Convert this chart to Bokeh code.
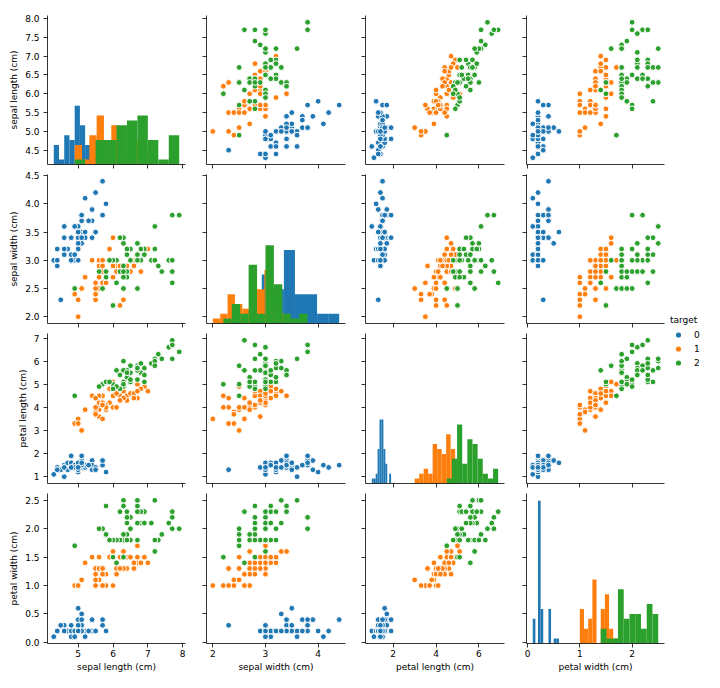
import numpy as np
from bokeh.plotting import figure
from bokeh.models import Range1d, FixedTicker, Legend, LegendItem, Spacer, CustomLabelingPolicy
from bokeh.layouts import gridplot, row, column
from bokeh.embed import file_html
from bokeh.resources import INLINE

# ---------------- data (iris, as plotted) ----------------
features = ["sepal length (cm)", "sepal width (cm)", "petal length (cm)", "petal width (cm)"]
target_names = ["0", "1", "2"]
legend_title = "target"

sepal_length = [5.1, 4.9, 4.7, 4.6, 5.0, 5.4, 4.6, 5.0, 4.4, 4.9, 5.4, 4.8, 4.8, 4.3, 5.8, 5.7, 5.4, 5.1, 5.7, 5.1,
                5.4, 5.1, 4.6, 5.1, 4.8, 5.0, 5.0, 5.2, 5.2, 4.7, 4.8, 5.4, 5.2, 5.5, 4.9, 5.0, 5.5, 4.9, 4.4, 5.1,
                5.0, 4.5, 4.4, 5.0, 5.1, 4.8, 5.1, 4.6, 5.3, 5.0,
                7.0, 6.4, 6.9, 5.5, 6.5, 5.7, 6.3, 4.9, 6.6, 5.2, 5.0, 5.9, 6.0, 6.1, 5.6, 6.7, 5.6, 5.8, 6.2, 5.6,
                5.9, 6.1, 6.3, 6.1, 6.4, 6.6, 6.8, 6.7, 6.0, 5.7, 5.5, 5.5, 5.8, 6.0, 5.4, 6.0, 6.7, 6.3, 5.6, 5.5,
                5.5, 6.1, 5.8, 5.0, 5.6, 5.7, 5.7, 6.2, 5.1, 5.7,
                6.3, 5.8, 7.1, 6.3, 6.5, 7.6, 4.9, 7.3, 6.7, 7.2, 6.5, 6.4, 6.8, 5.7, 5.8, 6.4, 6.5, 7.7, 7.7, 6.0,
                6.9, 5.6, 7.7, 6.3, 6.7, 7.2, 6.2, 6.1, 6.4, 7.2, 7.4, 7.9, 6.4, 6.3, 6.1, 7.7, 6.3, 6.4, 6.0, 6.9,
                6.7, 6.9, 5.8, 6.8, 6.7, 6.7, 6.3, 6.5, 6.2, 5.9]
sepal_width = [3.5, 3.0, 3.2, 3.1, 3.6, 3.9, 3.4, 3.4, 2.9, 3.1, 3.7, 3.4, 3.0, 3.0, 4.0, 4.4, 3.9, 3.5, 3.8, 3.8,
               3.4, 3.7, 3.6, 3.3, 3.4, 3.0, 3.4, 3.5, 3.4, 3.2, 3.1, 3.4, 4.1, 4.2, 3.1, 3.2, 3.5, 3.6, 3.0, 3.4,
               3.5, 2.3, 3.2, 3.5, 3.8, 3.0, 3.8, 3.2, 3.7, 3.3,
               3.2, 3.2, 3.1, 2.3, 2.8, 2.8, 3.3, 2.4, 2.9, 2.7, 2.0, 3.0, 2.2, 2.9, 2.9, 3.1, 3.0, 2.7, 2.2, 2.5,
               3.2, 2.8, 2.5, 2.8, 2.9, 3.0, 2.8, 3.0, 2.9, 2.6, 2.4, 2.4, 2.7, 2.7, 3.0, 3.4, 3.1, 2.3, 3.0, 2.5,
               2.6, 3.0, 2.6, 2.3, 2.7, 3.0, 2.9, 2.9, 2.5, 2.8,
               3.3, 2.7, 3.0, 2.9, 3.0, 3.0, 2.5, 2.9, 2.5, 3.6, 3.2, 2.7, 3.0, 2.5, 2.8, 3.2, 3.0, 3.8, 2.6, 2.2,
               3.2, 2.8, 2.8, 2.7, 3.3, 3.2, 2.8, 3.0, 2.8, 3.0, 2.8, 3.8, 2.8, 2.8, 2.6, 3.0, 3.4, 3.1, 3.0, 3.1,
               3.1, 3.1, 2.7, 3.2, 3.3, 3.0, 2.5, 3.0, 3.4, 3.0]
petal_length = [1.4, 1.4, 1.3, 1.5, 1.4, 1.7, 1.4, 1.5, 1.4, 1.5, 1.5, 1.6, 1.4, 1.1, 1.2, 1.5, 1.3, 1.4, 1.7, 1.5,
                1.7, 1.5, 1.0, 1.7, 1.9, 1.6, 1.6, 1.5, 1.4, 1.6, 1.6, 1.5, 1.5, 1.4, 1.5, 1.2, 1.3, 1.4, 1.3, 1.5,
                1.3, 1.3, 1.3, 1.6, 1.9, 1.4, 1.6, 1.4, 1.5, 1.4,
                4.7, 4.5, 4.9, 4.0, 4.6, 4.5, 4.7, 3.3, 4.6, 3.9, 3.5, 4.2, 4.0, 4.7, 3.6, 4.4, 4.5, 4.1, 4.5, 3.9,
                4.8, 4.0, 4.9, 4.7, 4.3, 4.4, 4.8, 5.0, 4.5, 3.5, 3.8, 3.7, 3.9, 5.1, 4.5, 4.5, 4.7, 4.4, 4.1, 4.0,
                4.4, 4.6, 4.0, 3.3, 4.2, 4.2, 4.2, 4.3, 3.0, 4.1,
                6.0, 5.1, 5.9, 5.6, 5.8, 6.6, 4.5, 6.3, 5.8, 6.1, 5.1, 5.3, 5.5, 5.0, 5.1, 5.3, 5.5, 6.7, 6.9, 5.0,
                5.7, 4.9, 6.7, 4.9, 5.7, 6.0, 4.8, 4.9, 5.6, 5.8, 6.1, 6.4, 5.6, 5.1, 5.6, 6.1, 5.6, 5.5, 4.8, 5.4,
                5.6, 5.1, 5.1, 5.9, 5.7, 5.2, 5.0, 5.2, 5.4, 5.1]
petal_width = [0.2, 0.2, 0.2, 0.2, 0.2, 0.4, 0.3, 0.2, 0.2, 0.1, 0.2, 0.2, 0.1, 0.1, 0.2, 0.4, 0.4, 0.3, 0.3, 0.3,
               0.2, 0.4, 0.2, 0.5, 0.2, 0.2, 0.4, 0.2, 0.2, 0.2, 0.2, 0.4, 0.1, 0.2, 0.2, 0.2, 0.2, 0.1, 0.2, 0.2,
               0.3, 0.3, 0.2, 0.6, 0.4, 0.3, 0.2, 0.2, 0.2, 0.2,
               1.4, 1.5, 1.5, 1.3, 1.5, 1.3, 1.6, 1.0, 1.3, 1.4, 1.0, 1.5, 1.0, 1.4, 1.3, 1.4, 1.5, 1.0, 1.5, 1.1,
               1.8, 1.3, 1.5, 1.2, 1.3, 1.4, 1.4, 1.7, 1.5, 1.0, 1.1, 1.0, 1.2, 1.6, 1.5, 1.6, 1.5, 1.3, 1.3, 1.3,
               1.2, 1.4, 1.2, 1.0, 1.3, 1.2, 1.3, 1.3, 1.1, 1.3,
               2.5, 1.9, 2.1, 1.8, 2.2, 2.1, 1.7, 1.8, 1.8, 2.5, 2.0, 1.9, 2.1, 2.0, 2.4, 2.3, 1.8, 2.2, 2.3, 1.5,
               2.3, 2.0, 2.0, 1.8, 2.1, 1.8, 1.8, 1.8, 2.1, 1.6, 1.9, 2.0, 2.2, 1.5, 1.4, 2.3, 2.4, 1.8, 1.8, 2.1,
               2.4, 2.3, 1.9, 2.3, 2.5, 2.3, 1.9, 2.0, 2.3, 1.8]
target = [0, 0, 0, 0, 0, 0, 0, 0, 0, 0, 0, 0, 0, 0, 0, 0, 0, 0, 0, 0, 0, 0, 0, 0, 0,
          0, 0, 0, 0, 0, 0, 0, 0, 0, 0, 0, 0, 0, 0, 0, 0, 0, 0, 0, 0, 0, 0, 0, 0, 0,
          1, 1, 1, 1, 1, 1, 1, 1, 1, 1, 1, 1, 1, 1, 1, 1, 1, 1, 1, 1, 1, 1, 1, 1, 1,
          1, 1, 1, 1, 1, 1, 1, 1, 1, 1, 1, 1, 1, 1, 1, 1, 1, 1, 1, 1, 1, 1, 1, 1, 1,
          2, 2, 2, 2, 2, 2, 2, 2, 2, 2, 2, 2, 2, 2, 2, 2, 2, 2, 2, 2, 2, 2, 2, 2, 2,
          2, 2, 2, 2, 2, 2, 2, 2, 2, 2, 2, 2, 2, 2, 2, 2, 2, 2, 2, 2, 2, 2, 2, 2, 2]

x_ticks = [[5, 6, 7, 8], [2, 3, 4], [2, 4, 6], [0, 1, 2]]
x_tick_labels = [["5", "6", "7", "8"], ["2", "3", "4"], ["2", "4", "6"], ["0", "1", "2"]]
y_ticks = [[4.5, 5.0, 5.5, 6.0, 6.5, 7.0, 7.5, 8.0], [2.0, 2.5, 3.0, 3.5, 4.0, 4.5],
           [1, 2, 3, 4, 5, 6, 7], [0.0, 0.5, 1.0, 1.5, 2.0, 2.5]]
y_tick_labels = [["4.5", "5.0", "5.5", "6.0", "6.5", "7.0", "7.5", "8.0"],
                 ["2.0", "2.5", "3.0", "3.5", "4.0", "4.5"],
                 ["1", "2", "3", "4", "5", "6", "7"],
                 ["0.0", "0.5", "1.0", "1.5", "2.0", "2.5"]]

# ---------------- style ----------------
COLORS = ["#1f77b4", "#ff7f0e", "#2ca02c"]
FONT = "DejaVu Sans"
FS = "9px"
TXT = "#000000"

W = [195, 160, 160, 155]
H = [169, 159, 160, 191]
ML = [47, 11, 10, 11]
MR = [10, 10, 11, 6]
MT = [15, 5, 5, 5]
MB = [5, 5, 5, 36]

data = [np.asarray(sepal_length), np.asarray(sepal_width), np.asarray(petal_length), np.asarray(petal_width)]
tgt = np.asarray(target)

lims = []
for a in data:
    lo, hi = float(a.min()), float(a.max())
    m = 0.05 * (hi - lo)
    lims.append((lo - m, hi + m))

# shared diagonal histogram scale (10 bins per class)
hists = []
maxc = 0
for v in range(4):
    hv = []
    for k in range(3):
        c, e = np.histogram(data[v][tgt == k], bins=10)
        hv.append((c, e))
        maxc = max(maxc, int(c.max()))
    hists.append(hv)
hist_top = maxc * 1.05


def style_axis(ax, ticks, labels, show, label, standoff, label_standoff):
    ax.ticker = FixedTicker(ticks=ticks)
    ax.major_label_overrides = {t: s for t, s in zip(ticks, labels)}
    ax.axis_line_color = TXT
    ax.axis_line_width = 0.8
    ax.major_tick_line_color = TXT
    ax.major_tick_line_width = 0.8
    ax.major_tick_in = 0
    ax.major_tick_out = 4
    ax.minor_tick_line_color = None
    ax.major_label_text_font = FONT
    ax.major_label_text_color = TXT
    if show:
        ax.major_label_text_font_size = FS
        ax.major_label_standoff = standoff
    else:
        ax.major_label_text_font_size = "0px"
        ax.major_label_standoff = 0
        ax.major_label_policy = CustomLabelingPolicy(code="return []")
    if label:
        ax.axis_label = label
        ax.axis_label_text_font = FONT
        ax.axis_label_text_font_size = FS
        ax.axis_label_text_font_style = "normal"
        ax.axis_label_text_color = TXT
        ax.axis_label_standoff = label_standoff
    else:
        ax.axis_label = None


figs = []
for i in range(4):
    rowf = []
    for j in range(4):
        p = figure(width=W[j], height=H[i],
                   x_range=Range1d(*lims[j]), y_range=Range1d(*lims[i]),
                   min_border_left=ML[j], min_border_right=MR[j],
                   min_border_top=MT[i], min_border_bottom=MB[i],
                   output_backend="svg", toolbar_location=None, tools="")
        p.outline_line_color = None
        p.grid.visible = False
        p.background_fill_color = "white"
        p.border_fill_color = "white"
        style_axis(p.xaxis[0], x_ticks[j], x_tick_labels[j], i == 3,
                   features[j] if i == 3 else None, 2, 2)
        style_axis(p.yaxis[0], y_ticks[i], y_tick_labels[i], j == 0,
                   features[i] if j == 0 else None, 4, 3)
        if i == j:
            p.extra_y_ranges = {"hist": Range1d(0, hist_top)}
            for k in range(3):
                c, e = hists[i][k]
                p.quad(left=e[:-1], right=e[1:], bottom=0, top=c, y_range_name="hist",
                       fill_color=COLORS[k], line_color=None)
        else:
            for k in range(3):
                msk = tgt == k
                p.scatter(x=data[j][msk], y=data[i][msk], size=5.8, fill_color=COLORS[k],
                          line_color="white", line_width=1.0)
        rowf.append(p)
    figs.append(rowf)

grid = gridplot(figs, toolbar_location=None)

lf = figure(width=46, height=80, x_range=Range1d(0, 1), y_range=Range1d(0, 1),
            x_axis_location=None, y_axis_location=None, toolbar_location=None, tools="",
            output_backend="svg", min_border=0)
lf.outline_line_color = None
lf.grid.visible = False
rs = [lf.scatter(x=[5], y=[5], size=5, fill_color=c, line_color=None) for c in COLORS]
leg = Legend(items=[LegendItem(label=n, renderers=[r]) for n, r in zip(target_names, rs)],
             location="top_left", title=legend_title,
             title_text_font=FONT, title_text_font_size=FS, title_text_font_style="normal",
             title_text_color=TXT, title_standoff=3,
             label_text_font=FONT, label_text_font_size=FS, label_text_color=TXT,
             glyph_width=16, glyph_height=13, label_height=13, label_width=8,
             label_standoff=8, spacing=1, padding=3, margin=0,
             border_line_color=None, background_fill_alpha=0)
lf.add_layout(leg)

layout = row(grid, column(Spacer(width=46, height=315), lf))

open("out.html", "w").write(file_html(layout, INLINE))
